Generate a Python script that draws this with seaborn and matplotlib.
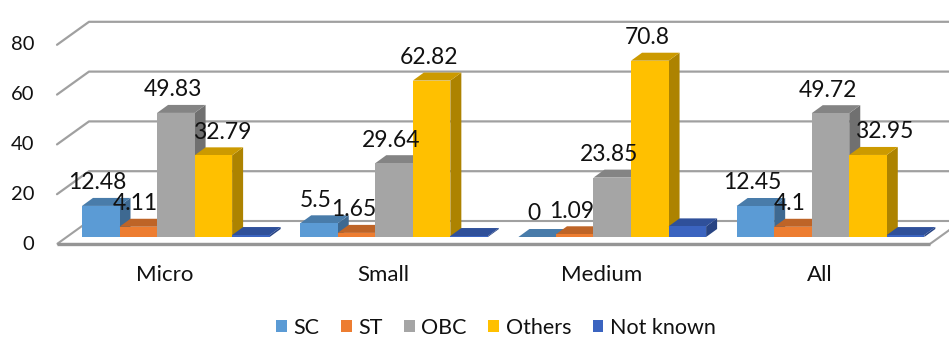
import matplotlib
matplotlib.use("Agg")
import matplotlib.pyplot as plt
from matplotlib.patches import Polygon, Patch, Rectangle
from matplotlib.colors import to_rgb
import numpy as np
import pandas as pd
import seaborn as sns

# ---- data -------------------------------------------------------------
categories = ["Micro", "Small", "Medium", "All"]
series = ["SC", "ST", "OBC", "Others", "Not known"]
sc = [12.48, 5.5, 0, 12.45]
st = [4.11, 1.65, 1.09, 4.1]
obc = [49.83, 29.64, 23.85, 49.72]
others = [32.79, 62.82, 70.8, 32.95]
not_known = [0.79, 0.39, 4.26, 0.78]
y_ticks = [0, 20, 40, 60, 80]
labelled = ["SC", "ST", "OBC", "Others"]

# ---- style ------------------------------------------------------------
colors = ["#5B9BD5", "#ED7D31", "#A5A5A5", "#FFC000", "#3B64C0"]
grid_color = "#a0a0a0"
text_color = "#111111"
font = ["Lato", "DejaVu Sans"]

sns.set_theme(style="white")
plt.rcParams["font.family"] = font

df = pd.DataFrame({
    "category": np.repeat(categories, len(series)),
    "series": series * len(categories),
    "value": [v for row in zip(sc, st, obc, others, not_known) for v in row],
})

W, H = 949, 341
fig = plt.figure(figsize=(W / 100, H / 100), dpi=100)

# front plane of the columns, in pixels
plane_left, plane_right = 66.7, 939.6
y0_px = 237.0
ppu = 2.49                       # pixels per value unit
ax = fig.add_axes([plane_left / W, (H - y0_px) / H,
                   (plane_right - plane_left) / W, 80 * ppu / H])

sns.barplot(data=df, x="category", y="value", hue="series",
            order=categories, hue_order=series, palette=colors,
            width=0.86, gap=0, saturation=1, legend=False,
            linewidth=0, ax=ax)
bars = sorted([p for p in ax.patches if isinstance(p, Rectangle)],
              key=lambda p: p.get_x())
ax.set_xlim(-0.5, 3.5)
ax.set_ylim(0, 80)
ax.axis("off")

sx = (plane_right - plane_left) / 4.0   # pixels per category unit


def off(dx_px, dy_px):
    return dx_px / sx, dy_px / ppu


# depth offsets (pixels): floor front edge, back wall, column depth
fdx, fdy = off(-9.7, -7)
bdx, bdy = off(22.3, 16)
cdx, cdy = off(11, 8)

# floor
floor = Polygon([(-0.5 + fdx, fdy), (3.5 + fdx, fdy), (3.5 + bdx, bdy),
                 (-0.5 + bdx, bdy)], closed=True, facecolor="white",
                edgecolor=grid_color, linewidth=1.5, zorder=2, clip_on=False)
ax.add_patch(floor)
ax.plot([-0.5 + fdx, 3.5 + fdx], [fdy, fdy], color="#959595", lw=2.4,
        zorder=2.1, clip_on=False, solid_capstyle="butt")

# perspective gridlines
for v in y_ticks[1:]:
    ax.plot([-0.5 + fdx, -0.5 + bdx, 3.6 + bdx], [v + fdy, v + bdy, v + bdy],
            color=grid_color, lw=1.6, zorder=1, clip_on=False)

for v in y_ticks:
    ax.annotate(str(v), xy=(-0.5, v), xytext=(-9.7 - 23, -7),
                textcoords="offset pixels", ha="right", va="center",
                fontsize=14.5, color=text_color, annotation_clip=False)

for i, c in enumerate(categories):
    ax.annotate(c, xy=(i, 0), xytext=(-11, -38), textcoords="offset pixels",
                ha="center", va="center", fontsize=16, color=text_color,
                annotation_clip=False)


def shade(col, f, warm=0.0):
    r, g, b = to_rgb(col)
    return (min(1, r * f + warm), g * f, max(0, b * f))


# extrude every column: top and side faces, drawn left to right
for k, p in enumerate(bars):
    x0, w, h = p.get_x(), p.get_width(), p.get_height()
    col = p.get_facecolor()[:3]
    z = 10 + k
    p.set_zorder(z)
    p.set_clip_on(False)
    side = Polygon([(x0 + w, 0), (x0 + w + cdx, cdy), (x0 + w + cdx, h + cdy),
                    (x0 + w, h)], closed=True, facecolor=shade(col, 0.68),
                   edgecolor="none", zorder=z - 0.5, clip_on=False)
    top = Polygon([(x0, h), (x0 + w, h), (x0 + w + cdx, h + cdy),
                   (x0 + cdx, h + cdy)], closed=True, facecolor=shade(col, 0.8),
                  edgecolor="none", zorder=z - 0.4, clip_on=False)
    ax.add_patch(side)
    ax.add_patch(top)

# value labels
label_shift = {("Others", "Micro"): 12, ("Others", "All"): 19}
values = {"SC": sc, "ST": st, "OBC": obc, "Others": others}
group_w = 0.86
bar_w = group_w / len(series)
for s in labelled:
    j = series.index(s)
    for i, c in enumerate(categories):
        v = values[s][i]
        cx = i - group_w / 2 + bar_w * (j + 0.5)
        ax.annotate(f"{v:g}", xy=(cx, v),
                    xytext=(-3 + label_shift.get((s, c), 0), 23),
                    textcoords="offset pixels", ha="center", va="center",
                    fontsize=16.5, color=text_color, zorder=100,
                    annotation_clip=False)

handles = [Patch(facecolor=c, edgecolor="none") for c in colors]
fig.legend(handles, series, loc="center", bbox_to_anchor=(496 / W, 13 / H),
           ncol=5, frameon=False, fontsize=15.5, handlelength=0.5,
           handleheight=0.5, handletextpad=0.3, columnspacing=1.0,
           labelcolor=text_color)

fig.savefig("out.png", dpi=100)
